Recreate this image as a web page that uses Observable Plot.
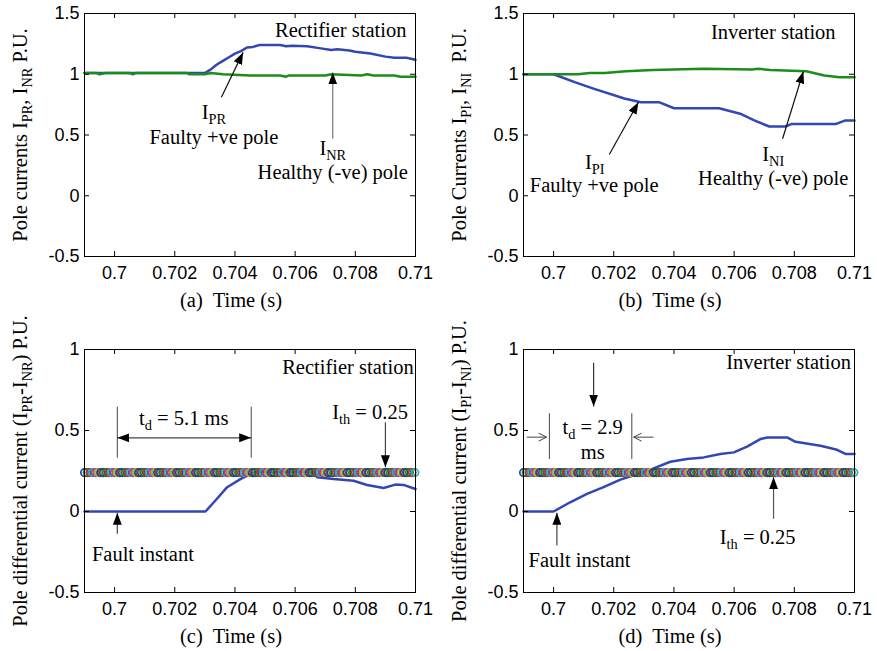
<!DOCTYPE html>
<html><head><meta charset="utf-8">
<script src="https://cdn.jsdelivr.net/npm/d3@7"></script>
<script src="https://cdn.jsdelivr.net/npm/@observablehq/plot@0.6"></script>
<style>
body{margin:0;background:#fff;}
#wrap{position:relative;width:877px;height:651px;overflow:hidden;background:#fff;}
#wrap svg{position:absolute;overflow:visible;}
</style></head><body><div id="wrap"></div>
<script>
// ---------- axes ----------
const timeDomain = [0.699, 0.71];
const timeTicks = [0.7, 0.702, 0.704, 0.706, 0.708, 0.71];
const timeTickLabels = ["0.7", "0.702", "0.704", "0.706", "0.708", "0.71"];
const currentTicks = [-0.5, 0, 0.5, 1, 1.5];
const currentTickLabels = ["-0.5", "0", "0.5", "1", "1.5"];
const diffTicks = [-0.5, 0, 0.5, 1];
const diffTickLabels = ["-0.5", "0", "0.5", "1"];

// ---------- series [time, value] ----------
const iPR = [[0.699,1.01],[0.7030,1.01],[0.7032,1.04],[0.7034,1.08],[0.7036,1.11],[0.7038,1.14],[0.704,1.17],[0.7042,1.19],[0.7044,1.22],[0.7046,1.225],[0.7048,1.24],[0.7055,1.24],[0.7057,1.23],[0.7059,1.235],[0.7064,1.23],[0.7068,1.215],[0.7072,1.2],[0.7074,1.205],[0.7078,1.195],[0.708,1.185],[0.7085,1.17],[0.709,1.145],[0.7093,1.135],[0.7097,1.135],[0.71,1.12]];
const iNR = [[0.699,1.01],[0.6994,1.01],[0.6995,1.0],[0.6997,1.01],[0.7005,1.01],[0.7006,1.0],[0.7007,1.01],[0.7024,1.01],[0.7025,1.0],[0.703,1.0],[0.7032,1.01],[0.7036,1.0],[0.7045,0.99],[0.7055,0.99],[0.7057,0.98],[0.7058,0.99],[0.707,0.99],[0.7072,1.0],[0.7082,0.99],[0.7084,1.0],[0.7086,0.99],[0.7093,0.99],[0.7095,0.98],[0.71,0.98]];
const iPI = [[0.699,1.0],[0.7,1.0],[0.7007,0.935],[0.70135,0.88],[0.70235,0.8],[0.7029,0.77],[0.7035,0.77],[0.704,0.72],[0.7055,0.72],[0.7062,0.675],[0.70667,0.62],[0.70717,0.57],[0.7077,0.57],[0.7079,0.59],[0.70937,0.59],[0.7097,0.62],[0.71,0.62]];
const iNI = [[0.699,1.0],[0.7,1.0],[0.7008,1.0],[0.7012,1.01],[0.7017,1.01],[0.7024,1.025],[0.7033,1.035],[0.705,1.045],[0.7066,1.04],[0.7068,1.045],[0.7072,1.035],[0.7084,1.025],[0.709,0.99],[0.7095,0.975],[0.71,0.975]];
const diffR = [[0.699,0],[0.70302,0],[0.7033,0.057],[0.70374,0.15],[0.70418,0.2],[0.70451,0.23],[0.7047,0.245],[0.7066,0.245],[0.70673,0.212],[0.70728,0.2],[0.70794,0.19],[0.70839,0.164],[0.70894,0.145],[0.70933,0.166],[0.7096,0.164],[0.71,0.139]];
const diffI = [[0.699,0],[0.7,0],[0.70055,0.057],[0.70111,0.109],[0.70166,0.15],[0.70222,0.197],[0.70277,0.23],[0.70322,0.258],[0.70388,0.307],[0.70443,0.324],[0.70499,0.334],[0.70554,0.355],[0.70599,0.365],[0.70643,0.4],[0.70687,0.447],[0.7071,0.457],[0.70776,0.457],[0.70804,0.43],[0.70887,0.406],[0.70942,0.381],[0.7097,0.355],[0.71,0.355]];
const thresholdLevel = 0.24;
const thresholdStep = 0.00009;
const markerColors = ["#1f3f9f","#1f7f1f","#c03030","#20b0c0","#b030b0","#b0b020","#404040"];

// ---------- styles ----------
const BLUE = "#3347b3", GREEN = "#1c8c1c";
const SERIF = "'Liberation Serif','Times New Roman',serif";
const SANS = "'Liberation Sans',Arial,sans-serif";

// ---------- annotations ----------
const panels = [
  { left:0, top:0, width:438, height:325, margin:{top:13,right:23,bottom:69,left:84},
    yDomain:[-0.5,1.5], yTicks:currentTicks, yTickLabels:currentTickLabels,
    series:[{data:iPR,color:BLUE},{data:iNR,color:GREEN}],
    yLabel:"Pole currents I_{PR}, I_{NR} P.U.", xLabel:"(a)\u00a0 Time (s)",
    texts:[{t:0.7097,v:1.36,text:"Rectifier station",anchor:"end"},
      {t:0.7033,v:0.688,text:"I_{PR}"},{t:0.7033,v:0.482,text:"Faulty +ve pole"},
      {t:0.70725,v:0.39,text:"I_{NR}"},{t:0.70725,v:0.194,text:"Healthy (-ve) pole"}],
    arrows:[{t1:0.70355,v1:0.811,t2:0.70427,v2:1.18,c:"#111"},{t1:0.70725,v1:0.47,t2:0.70725,v2:1.015,c:"#777"}],
    openArrows:[], bars:[], dims:[] },
  { left:437, top:0, width:440, height:325, margin:{top:13,right:23,bottom:69,left:86},
    yDomain:[-0.5,1.5], yTicks:currentTicks, yTickLabels:currentTickLabels,
    series:[{data:iPI,color:BLUE},{data:iNI,color:GREEN}],
    yLabel:"Pole Currents I_{PI}, I_{NI}\u00a0 P.U.", xLabel:"(b)\u00a0 Time (s)",
    texts:[{t:0.7073,v:1.341,text:"Inverter station"},
      {t:0.70137,v:0.276,text:"I_{PI}"},{t:0.70135,v:0.084,text:"Faulty +ve pole"},
      {t:0.7073,v:0.34,text:"I_{NI}"},{t:0.7073,v:0.144,text:"Healthy (-ve) pole"}],
    arrows:[{t1:0.70185,v1:0.34,t2:0.70282,v2:0.77,c:"#111"},{t1:0.70761,v1:0.469,t2:0.7083,v2:1.023,c:"#111"}],
    openArrows:[], bars:[], dims:[] },
  { left:0, top:325, width:438, height:326, margin:{top:24,right:23,bottom:59,left:84},
    yDomain:[-0.5,1], yTicks:diffTicks, yTickLabels:diffTickLabels,
    series:[{data:diffR,color:BLUE}], threshold:true,
    yLabel:"Pole differential current (I_{PR}-I_{NR}) P.U.", xLabel:"(c)\u00a0 Time (s)",
    texts:[{t:0.70994,v:0.891,text:"Rectifier station",anchor:"end"},
      {t:0.7023,v:0.572,text:"t_{d} = 5.1 ms"},{t:0.70849,v:0.609,text:"I_{th} = 0.25"},
      {t:0.70094,v:-0.267,text:"Fault instant"}],
    arrows:[{t1:0.709,v1:0.551,t2:0.709,v2:0.273,c:"#444"},{t1:0.70009,v1:-0.138,t2:0.70009,v2:-0.008,c:"#444"}],
    dims:[{t1:0.70009,v1:0.455,t2:0.70454,v2:0.455,c:"#444"}],
    bars:[{t:0.70009,v1:0.329,v2:0.644},{t:0.70454,v1:0.329,v2:0.644}], openArrows:[] },
  { left:437, top:325, width:440, height:326, margin:{top:24,right:23,bottom:59,left:86},
    yDomain:[-0.5,1], yTicks:diffTicks, yTickLabels:diffTickLabels,
    series:[{data:diffI,color:BLUE}], threshold:true,
    yLabel:"Pole differential current (I_{PI}-I_{NI}) P.U.", xLabel:"(d)\u00a0 Time (s)",
    texts:[{t:0.70988,v:0.922,text:"Inverter station",anchor:"end"},
      {t:0.7013,v:0.52,text:"t_{d} = 2.9"},{t:0.7013,v:0.362,text:"ms"},
      {t:0.70678,v:-0.158,text:"I_{th} = 0.25"},{t:0.70086,v:-0.302,text:"Fault instant"}],
    arrows:[{t1:0.70133,v1:0.918,t2:0.70133,v2:0.648,c:"#333"},{t1:0.70731,v1:-0.045,t2:0.70731,v2:0.212,c:"#555"},{t1:0.70011,v1:-0.21,t2:0.70011,v2:-0.008,c:"#444"}],
    openArrows:[{t1:0.69911,v1:0.459,t2:0.69977,v2:0.459},{t1:0.70332,v1:0.459,t2:0.70266,v2:0.459}],
    bars:[{t:0.69986,v1:0.321,v2:0.603},{t:0.7026,v1:0.321,v2:0.603}], dims:[] }
];

function fmt(ticks, labels) { return d => labels[ticks.indexOf(d)]; }

function applyFontsAndSubscripts(svg) {
  d3.select(svg).selectAll("text").each(function() {
    const el = d3.select(this);
    const isTick = !!this.closest('g[aria-label$="tick label"]');
    el.style("font-family", isTick ? SANS : SERIF);
    const s = this.textContent;
    if (!s.includes("_{")) return;
    el.text(null);
    let sub = false;
    for (const p of s.split(/(_\{[^}]*\})/)) {
      if (!p) continue;
      if (p.startsWith("_{")) {
        el.append("tspan").attr("dy", 5).attr("font-size", "0.7em").text(p.slice(2, -1));
        sub = true;
      } else {
        const ts = el.append("tspan").text(p);
        if (sub) { ts.attr("dy", -5); sub = false; }
      }
    }
  });
}

function addHeads(svg, id) {
  const defs = d3.select(svg).insert("defs", ":first-child");
  defs.append("marker").attr("id", id + "f").attr("viewBox", "0 0 12 9").attr("refX", 12).attr("refY", 4.5)
    .attr("markerWidth", 12).attr("markerHeight", 9).attr("markerUnits", "userSpaceOnUse")
    .attr("orient", "auto-start-reverse")
    .append("path").attr("d", "M0,0L12,4.5L0,9Z").attr("fill", "#000");
  defs.append("marker").attr("id", id + "o").attr("viewBox", "-1 -1 10 10").attr("refX", 8).attr("refY", 4)
    .attr("markerWidth", 10).attr("markerHeight", 10).attr("markerUnits", "userSpaceOnUse")
    .attr("orient", "auto")
    .append("path").attr("d", "M0,0L8,4L0,8").attr("fill", "none").attr("stroke", "#444").attr("stroke-width", 1);
  const s = d3.select(svg);
  s.selectAll('[aria-label="filled-arrow"]').each(function() {
    const t = this.tagName === "path" ? d3.select(this) : d3.select(this).selectAll("path");
    t.attr("marker-end", `url(#${id}f)`);
  });
  s.selectAll('[aria-label="dim-arrow"]').each(function() {
    const t = this.tagName === "path" ? d3.select(this) : d3.select(this).selectAll("path");
    t.attr("marker-end", `url(#${id}f)`).attr("marker-start", `url(#${id}f)`);
  });
  s.selectAll('[aria-label="open-arrow"]').each(function() {
    const t = this.tagName === "path" ? d3.select(this) : d3.select(this).selectAll("path");
    t.attr("marker-end", `url(#${id}o)`);
  });
}

const wrap = document.getElementById("wrap");
panels.forEach((p, k) => {
  const m = p.margin;
  const innerW = p.width - m.left - m.right;
  const innerH = p.height - m.top - m.bottom;
  const marks = [
    ...p.series.map(s => Plot.line(s.data, {x: d => d[0], y: d => d[1], stroke: s.color, strokeWidth: 2.5, strokeLinejoin: "round"})),
  ];
  if (p.threshold) {
    const times = d3.range(timeDomain[0], timeDomain[1] + 1e-9, thresholdStep);
    marks.push(Plot.dot(times, {x: d => d, y: () => thresholdLevel, r: 3.7, strokeWidth: 1.7,
      stroke: (d, i) => markerColors[i % markerColors.length], fill: "none"}));
  }
  marks.push(
    Plot.frame({stroke: "#000", strokeWidth: 1}),
    Plot.tickX(timeTicks, {x: d => d, insetTop: innerH - 5, stroke: "#000"}),
    Plot.tickX(timeTicks, {x: d => d, insetBottom: innerH - 5, stroke: "#000"}),
    Plot.tickY(p.yTicks, {y: d => d, insetRight: innerW - 5, stroke: "#000"}),
    Plot.tickY(p.yTicks, {y: d => d, insetLeft: innerW - 5, stroke: "#000"}),
    Plot.axisX(timeTicks, {tickSize: 0, tickPadding: 10, tickFormat: fmt(timeTicks, timeTickLabels), label: null, fontSize: 18, fill: "#000"}),
    Plot.axisY(p.yTicks, {tickSize: 0, tickPadding: 5, tickFormat: fmt(p.yTicks, p.yTickLabels), label: null, fontSize: 18, fill: "#000"}),
    Plot.ruleX(p.bars, {x: "t", y1: "v1", y2: "v2", stroke: "#444", strokeWidth: 1}),
    Plot.link(p.arrows, {x1: "t1", y1: "v1", x2: "t2", y2: "v2", stroke: "c", strokeWidth: 1.2, ariaLabel: () => "filled-arrow"}),
    Plot.link(p.dims, {x1: "t1", y1: "v1", x2: "t2", y2: "v2", stroke: "c", strokeWidth: 1.2, ariaLabel: () => "dim-arrow"}),
    Plot.link(p.openArrows, {x1: "t1", y1: "v1", x2: "t2", y2: "v2", stroke: "#444", strokeWidth: 1, ariaLabel: () => "open-arrow"}),
    Plot.text(p.texts.filter(d => d.anchor !== "end"), {x: "t", y: "v", text: "text", fontFamily: SERIF, fontSize: 20.5, fill: "#000"}),
    Plot.text(p.texts.filter(d => d.anchor === "end"), {x: "t", y: "v", text: "text", textAnchor: "end", fontFamily: SERIF, fontSize: 20.5, fill: "#000"}),
    Plot.text([p.yLabel], {frameAnchor: "left", text: d => d, rotate: -90, dx: -64, textAnchor: "middle", lineAnchor: "middle", fontFamily: SERIF, fontSize: 20.5, fill: "#000"}),
    Plot.text([p.xLabel], {frameAnchor: "bottom", text: d => d, dy: 44, dx: -19, textAnchor: "middle", lineAnchor: "middle", fontFamily: SERIF, fontSize: 20.5, fill: "#000"})
  );
  const svg = Plot.plot({
    width: p.width, height: p.height,
    marginTop: m.top, marginRight: m.right, marginBottom: m.bottom, marginLeft: m.left,
    x: {domain: timeDomain}, y: {domain: p.yDomain},
    color: {type: "identity"},
    style: {fontFamily: SANS, fontSize: "18px", background: "transparent", overflow: "visible", color: "#000"},
    marks
  });
  svg.style.left = p.left + "px";
  svg.style.top = p.top + "px";
  applyFontsAndSubscripts(svg);
  addHeads(svg, "ah" + k);
  wrap.appendChild(svg);
});
</script></body></html>
